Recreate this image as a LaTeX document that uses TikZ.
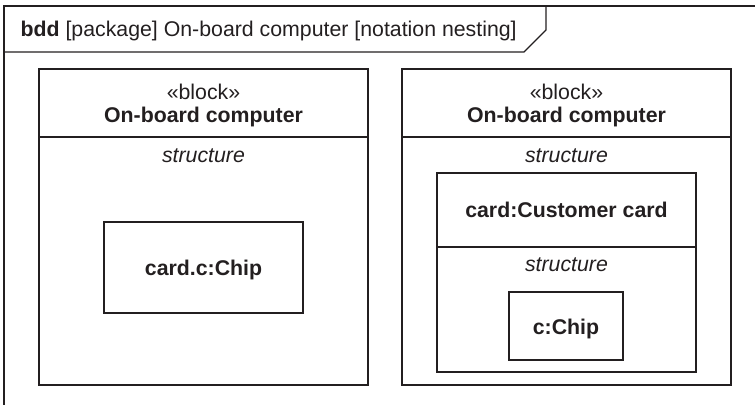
\documentclass[tikz,border=0pt]{standalone}
\usepackage{fontspec}
\setmainfont{Liberation Sans}
\definecolor{ink}{HTML}{231F20}
\begin{document}
\begin{tikzpicture}[x=1pt,y=-1pt,line width=1.2pt,
  every node/.style={text=ink},
  box/.style={draw=ink,rectangle,inner sep=0pt},
  lbl/.style={anchor=base,inner sep=0pt,font=\fontsize{21.3}{25}\selectfont},
  ttl/.style={lbl,font=\fontsize{21.3}{25}\selectfont\bfseries},
  ital/.style={lbl,font=\fontsize{21.3}{25}\selectfont\itshape},
  divider/.style={draw=ink,line width=1.7pt}]
\useasboundingbox (0,0) rectangle (755,405);
% frame
\draw[ink] (755,6) -- (4,6) -- (4,405);
\draw[ink] (4,52) -- (524,52) -- (546,30) -- (546,6);
\node[lbl,anchor=base west] (title) at (20,36) {\textbf{bdd} [package] On-board computer [notation nesting]};
% left block
\node[box,minimum width=329pt,minimum height=316pt] (lb) at (203.5,227) {};
\draw[divider] (lb.west |- 0,137) coordinate (lbd1) -- (lb.east |- 0,137) coordinate (lbd2);
\node[lbl] (lst) at (203.5,99) {«block»};
\node[ttl] (lname) at (203.5,122) {On-board computer};
\node[ital] (lstruct) at (203.5,162) {structure};
\node[box,minimum width=199pt,minimum height=91pt] (lchip) at (203.5,267.5) {};
\node[ttl] (lchipt) at (203.5,275) {card.c:Chip};
% right block
\node[box,minimum width=329pt,minimum height=316pt] (rb) at (566.5,227) {};
\draw[divider] (rb.west |- 0,137) coordinate (rbd1) -- (rb.east |- 0,137) coordinate (rbd2);
\node[lbl] (rst) at (566.5,99) {«block»};
\node[ttl] (rname) at (566.5,122) {On-board computer};
\node[ital] (rstruct) at (566.5,162) {structure};
\node[box,minimum width=259pt,minimum height=199pt] (cc) at (566.5,272.5) {};
\draw[divider] (cc.west |- 0,247) coordinate (ccd1) -- (cc.east |- 0,247) coordinate (ccd2);
\node[ttl] (cct) at (566.5,217) {card:Customer card};
\node[ital] (ccstruct) at (566.5,271) {structure};
\node[box,minimum width=114pt,minimum height=68pt] (rchip) at (566,326) {};
\node[ttl] (rchipt) at (566,334) {c:Chip};
\end{tikzpicture}
\end{document}
